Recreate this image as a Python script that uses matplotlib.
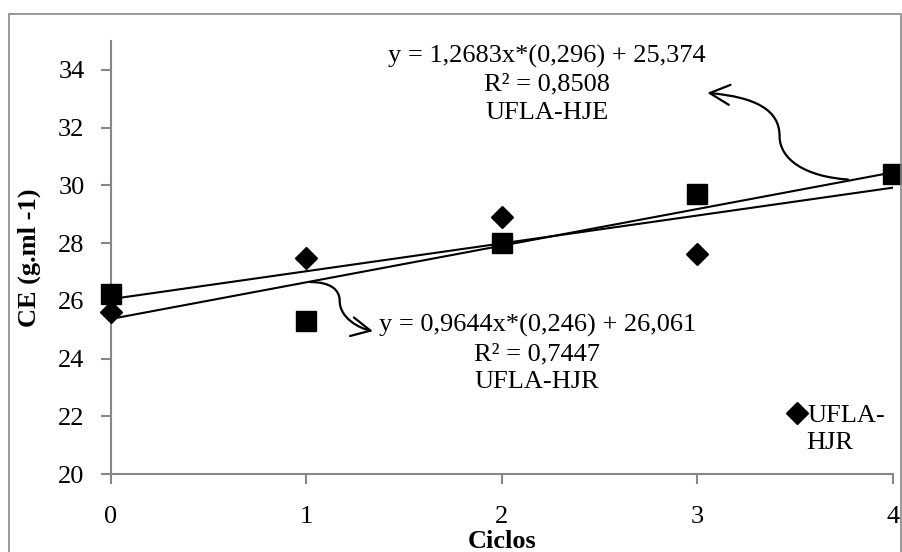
import matplotlib.pyplot as plt
import numpy as np
from matplotlib.patches import FancyArrowPatch, Rectangle
from matplotlib.path import Path

plt.rcParams['font.family'] = ['Liberation Serif', 'DejaVu Serif']

# data
ciclos_hje = [0, 1, 2, 3, 4]
ce_hje = [26.22, 25.3, 28.0, 29.7, 30.4]
ciclos_hjr = [0, 1, 2, 3]
ce_hjr = [25.62, 27.5, 28.9, 27.62]

# trend lines as written on the chart (slope, intercept)
trend_hje = (1.2683, 25.374)
trend_hjr = (0.9644, 26.061)
trend_x = np.array([0, 4])

eq_hje = 'y = 1,2683x*(0,296) + 25,374\nR² = 0,8508\nUFLA-HJE'
eq_hjr = 'y = 0,9644x*(0,246) + 26,061\nR² = 0,7447\nUFLA-HJR'

fs = 19
fig = plt.figure(figsize=(9.02, 5.52), dpi=100)
ax = fig.add_axes([0.123, 0.141, 0.867, 0.785])

gray = '#878787'

ax.plot(trend_x, trend_hje[0] * trend_x + trend_hje[1], color='black', lw=1.5, zorder=2)
ax.plot(trend_x, trend_hjr[0] * trend_x + trend_hjr[1], color='black', lw=1.5, zorder=2)

ax.plot(ciclos_hje, ce_hje, 's', color='black', ms=14.5, clip_on=False, zorder=3)
ax.plot(ciclos_hjr, ce_hjr, 'D', color='black', ms=11, clip_on=False, zorder=3,
        label='UFLA-')

ax.set_xlim(0, 4)
ax.set_ylim(20, 35)
ax.set_xticks([0, 1, 2, 3, 4])
ax.set_yticks(np.arange(20, 35, 2))

for side in ['top', 'right']:
    ax.spines[side].set_visible(False)
for side in ['left', 'bottom']:
    ax.spines[side].set_color(gray)
    ax.spines[side].set_linewidth(1.5)

ax.tick_params(axis='both', colors=gray, labelcolor='black', labelsize=fs,
               length=7, width=1.5, direction='out')
ax.tick_params(axis='y', pad=12)
ax.tick_params(axis='x', pad=16)

ax.set_xlabel('Ciclos', fontsize=fs, fontweight='bold')
ax.set_ylabel('CE (g.ml -1)', fontsize=fs, fontweight='bold')
ax.xaxis.set_label_coords(0.5, -0.155)
ax.yaxis.set_label_coords(-0.105, 0.5)
ax.xaxis.label.set_va('center')
ax.yaxis.label.set_va('center')

ax.text(2.23, 33.5, eq_hje, ha='center', va='center', fontsize=fs, linespacing=1.35)
ax.text(2.18, 24.18, eq_hjr, ha='center', va='center', fontsize=fs, linespacing=1.35)

# curved arrows pointing at the equations
verts1 = [(3.77, 30.2), (3.55, 30.3), (3.42, 30.9), (3.42, 31.7),
          (3.42, 32.6), (3.3, 33.05), (3.05, 33.2)]
codes = [Path.MOVETO, Path.CURVE4, Path.CURVE4, Path.CURVE4,
         Path.CURVE4, Path.CURVE4, Path.CURVE4]
ax.add_patch(FancyArrowPatch(path=Path(verts1, codes), arrowstyle='->',
                             mutation_scale=36, color='black', lw=1.6, zorder=4))

verts2 = [(1.02, 26.65), (1.12, 26.65), (1.17, 26.4), (1.17, 26.0),
          (1.17, 25.4), (1.27, 25.05), (1.34, 24.95)]
ax.add_patch(FancyArrowPatch(path=Path(verts2, codes), arrowstyle='->',
                             mutation_scale=34, color='black', lw=1.6, zorder=4))

leg = ax.legend(loc='center left', bbox_to_anchor=(0.847, 0.136), frameon=False,
                fontsize=fs, handlelength=0.8, handletextpad=0.0, borderpad=0)
ax.text(0.889, 0.073, 'HJR', transform=ax.transAxes, ha='left', va='center',
        fontsize=fs)

# outer chart border
fig.patches.append(Rectangle((8.5 / 902, -0.1), 892 / 902, 1.1 - 13.5 / 552,
                             transform=fig.transFigure, fill=False,
                             edgecolor=gray, lw=1.2))

fig.savefig('out.png', dpi=100)
